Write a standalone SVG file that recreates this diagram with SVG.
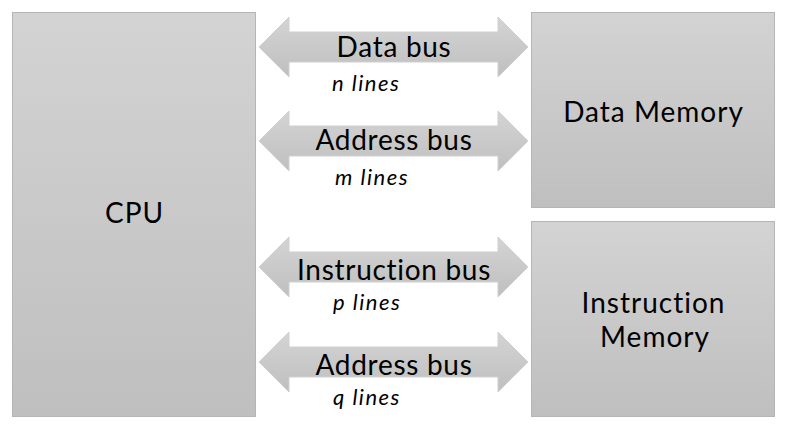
<svg xmlns="http://www.w3.org/2000/svg" width="786" height="430" viewBox="0 0 786 430">
  <defs>
    <linearGradient id="boxGrad" x1="0" y1="0" x2="0" y2="1">
      <stop offset="0" stop-color="#d3d3d3"/>
      <stop offset="1" stop-color="#bfbfbf"/>
    </linearGradient>
    <linearGradient id="arrowGrad" x1="0" y1="0" x2="0" y2="1">
      <stop offset="0" stop-color="#d4d4d4"/>
      <stop offset="1" stop-color="#bfbfbf"/>
    </linearGradient>
    <path id="dblArrow" d="M259,0 L289,-30 L289,-15 L498,-15 L498,-30 L528,0 L498,30 L498,15 L289,15 L289,30 Z"/>
  </defs>
  <style>
    .box { fill: url(#boxGrad); stroke: #b5b5b5; stroke-width: 1; }
    .arrow { fill: url(#arrowGrad); stroke: #d0d0d0; stroke-width: 1; }
    .lbl { font-family: Lato, "Open Sans", sans-serif; font-size: 28px; letter-spacing: 1px; fill: #000; text-anchor: middle; }
    .bus { font-family: Lato, "Open Sans", sans-serif; font-size: 28px; letter-spacing: 0.7px; fill: #000; text-anchor: middle; }
    .lines { font-family: Lato, "Open Sans", sans-serif; font-size: 22px; letter-spacing: 1.5px; font-style: italic; fill: #000; }
  </style>
  <rect width="786" height="430" fill="#ffffff"/>

  <g id="cpu">
    <rect class="box" x="12.5" y="12.5" width="243" height="404"/>
    <text class="lbl" x="134.5" y="223">CPU</text>
  </g>

  <g id="data-memory">
    <rect class="box" x="531.5" y="12.5" width="243" height="195"/>
    <text class="lbl" x="653.5" y="122">Data Memory</text>
  </g>

  <g id="instruction-memory">
    <rect class="box" x="531.5" y="221.5" width="243" height="195"/>
    <text class="lbl" x="653.5" y="312.5">Instruction</text>
    <text class="lbl" x="655" y="347">Memory</text>
  </g>

  <g id="connectors">
    <g id="data-bus">
      <use href="#dblArrow" class="arrow" transform="translate(0,47)"/>
      <text class="bus" x="394" y="57">Data bus</text>
      <text class="lines" x="332" y="91">n lines</text>
    </g>
    <g id="data-address-bus">
      <use href="#dblArrow" class="arrow" transform="translate(0,141)"/>
      <text class="bus" x="394" y="150">Address bus</text>
      <text class="lines" x="335" y="185">m lines</text>
    </g>
    <g id="instruction-bus">
      <use href="#dblArrow" class="arrow" transform="translate(0,267)"/>
      <text class="bus" x="394" y="280">Instruction bus</text>
      <text class="lines" x="333" y="310">p lines</text>
    </g>
    <g id="instruction-address-bus">
      <use href="#dblArrow" class="arrow" transform="translate(0,362)"/>
      <text class="bus" x="394" y="375">Address bus</text>
      <text class="lines" x="333" y="405">q lines</text>
    </g>
  </g>
</svg>
